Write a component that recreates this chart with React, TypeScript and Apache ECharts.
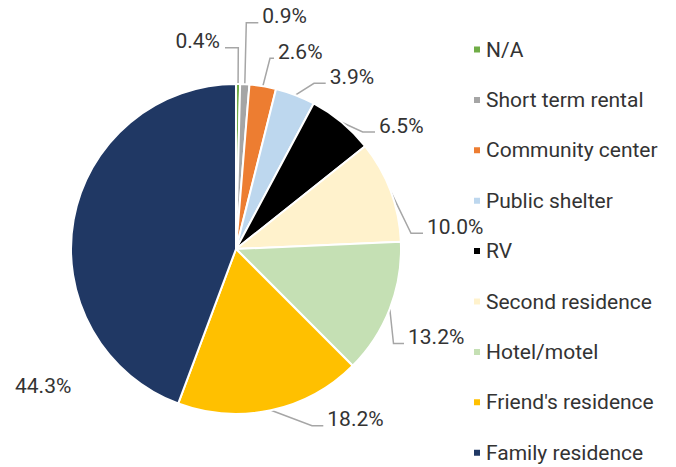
import { useEffect, useRef } from "react";
import * as echarts from "echarts";

// Where people stayed, share of respondents (%)
const categories = [
  "N/A",
  "Short term rental",
  "Community center",
  "Public shelter",
  "RV",
  "Second residence",
  "Hotel/motel",
  "Friend's residence",
  "Family residence",
];
const shares = [0.4, 0.9, 2.6, 3.9, 6.5, 10.0, 13.2, 18.2, 44.3];

const sliceColors = [
  "#70AD47",
  "#A5A5A5",
  "#ED7D31",
  "#BDD7EE",
  "#000000",
  "#FFF2CC",
  "#C5E0B4",
  "#FFC000",
  "#203864",
];

// Callout leader lines: [elbowX, elbowY, endX]; null = free-standing label
const callouts: ([number, number, number] | null)[] = [
  [238.3, 47.7, 225],
  [246.3, 22.7, 258.3],
  [270, 58.3, 274],
  [314, 83.3, 325.7],
  [362.7, 132, 375],
  [411, 233.3, 423],
  [393.5, 343.5, 404],
  [312, 425.7, 323.3],
  null,
];
const freeLabelAt: [number, number] = [15, 386];

const FONT = "Roboto, 'Noto Sans', sans-serif";
const TEXT = "#333333";

export default function App() {
  const ref = useRef<HTMLDivElement>(null);

  useEffect(() => {
    if (!ref.current) return;
    const chart = echarts.init(ref.current, undefined, { renderer: "svg" });

    const data = categories.map((name, i) => ({
      name,
      value: shares[i],
      itemStyle: { color: sliceColors[i] },
      labelLine: { show: callouts[i] !== null },
    }));

    chart.setOption({
      animation: false,
      backgroundColor: "#ffffff",
      legend: {
        orient: "vertical",
        left: 472,
        top: 37.5,
        height: 429,
        padding: 0,
        icon: "rect",
        itemWidth: 8,
        itemHeight: 8,
        itemGap: 26.4,
        selectedMode: false,
        textStyle: {
          fontFamily: FONT,
          fontSize: 21,
          lineHeight: 24,
          color: TEXT,
        },
        data: categories,
      },
      series: [
        {
          type: "pie",
          center: [236, 249],
          radius: 165,
          startAngle: 90,
          clockwise: true,
          avoidLabelOverlap: false,
          silent: true,
          itemStyle: { borderColor: "#ffffff", borderWidth: 2 },
          label: {
            show: true,
            position: "outside",
            fontFamily: FONT,
            fontSize: 21,
            color: TEXT,
            formatter: (p: any) => `${Number(p.value).toFixed(1)}%`,
          },
          labelLine: {
            show: true,
            length: 20,
            length2: 10,
            lineStyle: { color: "#A6A6A6", width: 1.5 },
          },
          labelLayout: (p: any) => {
            const c = callouts[p.dataIndex];
            if (!c) {
              return {
                x: freeLabelAt[0],
                y: freeLabelAt[1],
                align: "left",
                verticalAlign: "middle",
              };
            }
            const [ex, ey, endX] = c;
            const left = endX < ex;
            const start = p.labelLinePoints ? p.labelLinePoints[0] : [ex, ey];
            return {
              x: left ? endX - 5 : endX + 4,
              y: ey - 6.5,
              align: left ? "right" : "left",
              verticalAlign: "middle",
              labelLinePoints: [start, [ex, ey], [endX, ey]],
            };
          },
          data,
        },
      ],
    });

    return () => chart.dispose();
  }, []);

  return (
    <div
      ref={ref}
      style={{ position: "fixed", left: 0, top: 0, width: 676, height: 467 }}
    />
  );
}
